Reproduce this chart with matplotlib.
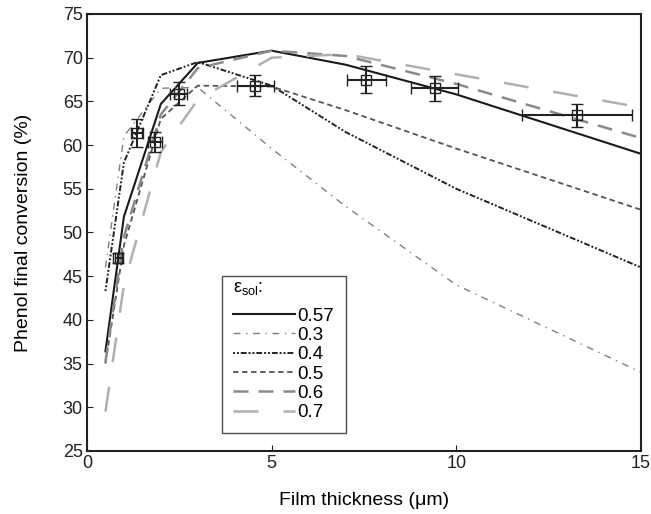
import matplotlib
matplotlib.use("Agg")
import matplotlib.pyplot as plt

plt.rcParams["font.family"] = ["Liberation Sans", "DejaVu Sans"]
plt.rcParams["mathtext.fontset"] = "custom"
plt.rcParams["mathtext.rm"] = "Liberation Sans"
plt.rcParams["mathtext.it"] = "Liberation Sans"

# model curves: film thickness (um) vs phenol final conversion (%)
thickness = [0.5, 1, 2, 3, 5, 7, 10, 15]
conv_057 = [36.4, 51.8, 64.7, 69.4, 70.8, 69.2, 65.8, 59.0]
conv_03 = [46.0, 61.0, 66.5, 66.6, 59.6, 53.0, 44.0, 34.0]
conv_04 = [43.3, 58.0, 68.0, 69.5, 66.8, 61.5, 55.0, 46.0]
conv_05 = [35.0, 48.5, 63.0, 66.8, 66.7, 64.0, 59.6, 52.6]
conv_06 = [35.2, 49.5, 63.5, 68.8, 70.8, 70.2, 67.0, 60.8]
conv_07 = [29.5, 44.0, 59.2, 65.2, 70.0, 70.4, 68.1, 64.3]

# experimental points with x/y error bars
exp_x = [0.85, 1.36, 1.84, 2.48, 4.56, 7.56, 9.41, 13.26]
exp_y = [47.1, 61.4, 60.4, 65.9, 66.8, 67.5, 66.5, 63.4]
exp_xerr = [0.1, 0.16, 0.18, 0.22, 0.5, 0.53, 0.64, 1.49]
exp_yerr = [0.6, 1.6, 1.15, 1.3, 1.24, 1.55, 1.4, 1.28]

fig = plt.figure(figsize=(6.51, 5.14), dpi=100)
ax = fig.add_axes([0.1336, 0.1226, 0.851, 0.8502])

ax.plot(thickness, conv_057, color="#1a1a1a", lw=1.5, label="0.57")
ax.plot(thickness, conv_03, color="#808080", lw=1.0,
        dashes=(5, 4, 1, 4), label="0.3")
ax.plot(thickness, conv_04, color="#222222", lw=1.4,
        dashes=(1, 1, 1, 1, 3, 1), label="0.4")
ax.plot(thickness, conv_05, color="#555555", lw=1.3,
        dashes=(3, 2), label="0.5")
ax.plot(thickness, conv_06, color="#8a8a8a", lw=1.8,
        dashes=(6, 4), label="0.6")
ax.plot(thickness, conv_07, color="#b0b0b0", lw=1.8,
        dashes=(10, 10), label="0.7")

ax.errorbar(exp_x, exp_y, xerr=exp_xerr, yerr=exp_yerr, fmt="s",
            mfc="none", mec="#222222", ms=7.5, mew=1.0, ecolor="#222222",
            elinewidth=1.5, capsize=4, capthick=1.5, zorder=5)

ax.set_xlim(0, 15)
ax.set_ylim(25, 75)
ax.set_xticks([0, 5, 10, 15])
ax.set_yticks(range(25, 76, 5))
ax.tick_params(direction="in", length=4, width=0.8, labelsize=13,
               colors="#222222", pad=3)
for s in ax.spines.values():
    s.set_linewidth(1.5)
    s.set_color("#222222")

ax.set_xlabel("Film thickness (μm)", fontsize=14, labelpad=14)
ax.set_ylabel("Phenol final conversion (%)", fontsize=14, labelpad=22)

leg = ax.legend(title=r"$\varepsilon_{sol}$:", loc="lower left",
                bbox_to_anchor=(0.243, 0.042), borderaxespad=0,
                fontsize=13.5, title_fontsize=13, handlelength=3.3,
                handletextpad=0.15, labelspacing=0.12, frameon=True,
                fancybox=False, edgecolor="#222222", borderpad=0.6,
                alignment="left")
leg.get_frame().set_linewidth(1.0)
leg.get_title().set_position((0, 8))

fig.savefig("out.png", dpi=100, facecolor="white")
